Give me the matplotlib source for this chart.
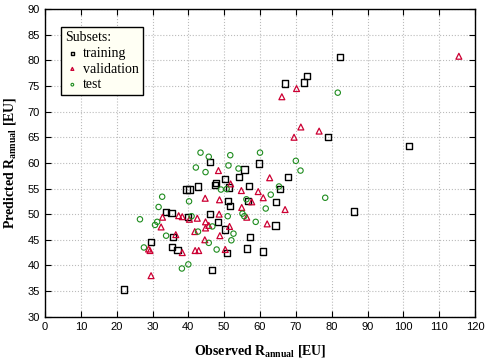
import matplotlib
matplotlib.use("Agg")
import matplotlib.pyplot as plt

train_x = [22.0, 29.6, 33.7, 35.3, 35.8, 35.4, 37.0, 39.5, 40.3, 42.7, 40.0, 46.0, 46.0,
           48.2, 47.8, 47.4, 50.2, 51.3, 54.2, 55.7, 59.7, 51.0, 51.7, 50.2, 46.6, 50.9,
           56.9, 56.6, 57.2, 56.4, 60.9, 64.5, 64.3, 65.6, 67.9, 78.9, 66.9, 72.2, 73.1,
           82.3, 86.3, 101.6]
train_y = [35.3, 44.6, 50.4, 50.2, 45.5, 43.6, 43.0, 54.8, 54.8, 55.4, 49.5, 50.0, 60.1,
           48.5, 56.1, 55.7, 56.8, 55.2, 57.2, 58.7, 59.9, 52.5, 51.6, 47.0, 39.1, 42.4,
           55.5, 52.6, 45.5, 43.3, 42.7, 52.4, 47.8, 54.9, 57.3, 65.0, 75.5, 75.7, 76.9,
           80.7, 50.5, 63.3]

valid_x = [29.6, 28.9, 29.3, 32.4, 32.8, 36.5, 37.3, 38.3, 40.3, 42.5, 44.8, 38.3, 41.9,
           42.9, 41.8, 44.6, 44.7, 48.7, 48.6, 45.7, 48.8, 51.5, 50.3, 48.4, 51.8, 54.8,
           54.9, 56.3, 57.7, 59.5, 60.9, 62.0, 62.7, 67.0, 69.5, 71.4, 76.5, 66.1, 70.2,
           115.5, 44.8]
valid_y = [38.0, 43.2, 42.9, 47.5, 49.4, 46.0, 49.7, 49.5, 49.0, 49.2, 48.5, 42.5, 42.9,
           42.9, 46.6, 45.0, 53.1, 52.8, 50.0, 47.8, 45.8, 47.6, 43.1, 58.5, 55.9, 54.6,
           51.3, 49.4, 52.4, 54.4, 53.2, 48.1, 57.1, 50.9, 65.0, 67.0, 66.2, 72.9, 74.5,
           80.8, 47.3]

test_x = [26.5, 27.6, 30.7, 31.3, 31.7, 32.7, 33.8, 38.2, 40.0, 40.2, 40.9, 42.7, 45.7,
          46.7, 47.9, 51.0, 52.6, 52.0, 49.1, 50.7, 43.4, 45.7, 51.7, 42.1, 44.8, 51.2,
          54.0, 60.0, 70.0, 71.3, 65.3, 63.0, 56.2, 61.6, 55.1, 55.6, 58.8, 78.2, 81.7]
test_y = [49.0, 43.5, 47.9, 48.5, 51.4, 53.4, 45.8, 39.4, 40.2, 52.5, 49.6, 46.6, 44.4,
          47.6, 43.1, 49.6, 46.2, 44.9, 54.8, 54.9, 62.0, 61.2, 61.5, 59.1, 58.2, 59.5,
          58.9, 62.0, 60.4, 58.5, 55.4, 53.8, 52.9, 51.1, 50.1, 49.6, 48.5, 53.2, 73.7]

plt.rcParams['mathtext.fontset'] = 'custom'
plt.rcParams['mathtext.rm'] = 'Liberation Serif'
plt.rcParams['mathtext.bf'] = 'Liberation Serif:bold'

fig = plt.figure(figsize=(5.0, 3.64), dpi=100)
ax = fig.add_axes([0.09, 0.13, 0.86, 0.845])

ax.scatter(train_x, train_y, marker='s', s=20, facecolors='none', edgecolors='black',
           linewidths=1.0, label='training', zorder=3)
ax.scatter(valid_x, valid_y, marker='^', s=18, facecolors='none', edgecolors='#cc0033',
           linewidths=0.9, label='validation', zorder=3)
ax.scatter(test_x, test_y, marker='o', s=15, facecolors='none', edgecolors='#1e8c1e',
           linewidths=0.8, label='test', zorder=3)

ax.set_xlim(0, 120)
ax.set_ylim(30, 90)
ax.set_xticks(range(0, 121, 10))
ax.set_yticks(range(30, 91, 5))
ax.grid(True, linestyle=':', color='#bbbbbb', linewidth=0.8)
ax.set_axisbelow(True)
ax.tick_params(direction='in', top=True, right=True, length=4, labelsize=8)
for lbl in ax.get_xticklabels() + ax.get_yticklabels():
    lbl.set_family('Liberation Sans')
for sp in ax.spines.values():
    sp.set_linewidth(1.0)

ax.set_xlabel(r'Observed $\mathbf{R_{annual}}$ [EU]', family='Liberation Serif',
              fontweight='bold', fontsize=10, labelpad=8)
ax.set_ylabel(r'Predicted $\mathbf{R_{annual}}$ [EU]', family='Liberation Serif',
              fontweight='bold', fontsize=10, labelpad=7)

leg = ax.legend(title='Subsets:', loc='upper left', bbox_to_anchor=(0.02, 0.965),
                prop={'family': 'Liberation Serif', 'size': 10}, frameon=True,
                fancybox=False, edgecolor='black', facecolor='#fffff4', framealpha=1,
                handletextpad=0.2, borderpad=0.3, labelspacing=0.2, markerscale=0.5,
                handlelength=1.1)
leg.get_title().set_family('Liberation Serif')
leg.get_title().set_fontsize(10)
leg._legend_box.align = 'left'
leg.get_frame().set_linewidth(1.0)

fig.savefig('out.png', dpi=100)
